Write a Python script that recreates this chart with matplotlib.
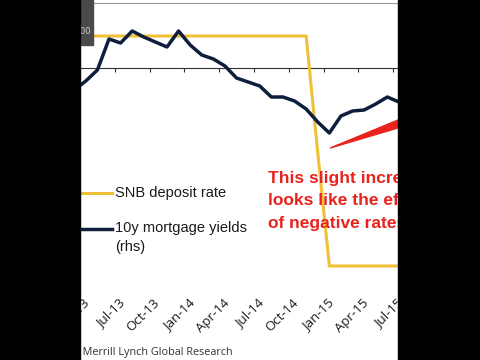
import matplotlib
matplotlib.use('Agg')
import matplotlib.pyplot as plt
from matplotlib.patches import Rectangle
from matplotlib.lines import Line2D
from matplotlib.transforms import ScaledTranslation
import numpy as np

# monthly data, Mar-13 .. Jul-15
months = ['Mar-13', 'Apr-13', 'May-13', 'Jun-13', 'Jul-13', 'Aug-13', 'Sep-13',
          'Oct-13', 'Nov-13', 'Dec-13', 'Jan-14', 'Feb-14', 'Mar-14', 'Apr-14',
          'May-14', 'Jun-14', 'Jul-14', 'Aug-14', 'Sep-14', 'Oct-14', 'Nov-14',
          'Dec-14', 'Jan-15', 'Feb-15', 'Mar-15', 'Apr-15', 'May-15', 'Jun-15',
          'Jul-15']
snb_rate = [0.0, 0.0, 0.0, 0.0, 0.0, 0.0, 0.0, 0.0, 0.0, 0.0, 0.0, 0.0, 0.0,
            0.0, 0.0, 0.0, 0.0, 0.0, 0.0, 0.0, 0.0, -0.38, -0.75, -0.75, -0.75,
            -0.75, -0.75, -0.75, -0.75]
mortgage_yield = [2.46, 2.55, 2.66, 2.97, 2.93, 3.05, 2.99, 2.94, 2.89, 3.05,
                  2.91, 2.81, 2.77, 2.70, 2.58, 2.54, 2.50, 2.39, 2.39, 2.35,
                  2.27, 2.14, 2.03, 2.20, 2.25, 2.26, 2.32, 2.39, 2.34]
tick_labels = ['Apr-13', 'Jul-13', 'Oct-13', 'Jan-14', 'Apr-14', 'Jul-14',
               'Oct-14', 'Jan-15', 'Apr-15', 'Jul-15']

YELLOW = '#f0c138'
NAVY = '#0e1f3d'
RED = '#e8231c'

W, H = 480, 360


def fx(px):
    return px / W


def fy(py):
    return 1 - py / H


fig = plt.figure(figsize=(4.8, 3.6), dpi=100, facecolor='white')

ax = fig.add_axes([fx(80), fy(280), fx(398) - fx(80), 280 / H])
ax.set_facecolor('none')
ax2 = ax.twinx()

# month index 0 = Jul-13, points sit mid-month
pos = np.arange(len(months)) - 4 + 0.5
tick_pos = [months.index(t) - 4 for t in tick_labels]

ax.plot(pos, snb_rate, color=YELLOW, lw=2.2, solid_joinstyle='miter')
ax2.plot(pos, mortgage_yield, color=NAVY, lw=2.5)

ax.set_xlim(-2.83, 24.42)
ax.set_ylim(-0.7957, 0.1174)
ax2.set_ylim(0.56, 3.36)

for a in (ax, ax2):
    for s in a.spines.values():
        s.set_visible(False)
    a.set_yticks([])

ax.set_xticks(tick_pos)
ax.set_xticklabels(tick_labels, rotation=45, ha='right', va='center',
                   rotation_mode='anchor', fontsize=9.5, family='Open Sans',
                   color='#1a1a1a')
ax.tick_params(axis='x', length=0, pad=15)
shift = ScaledTranslation(8 / 100, 0, fig.dpi_scale_trans)
for lab in ax.get_xticklabels():
    lab.set_transform(lab.get_transform() + shift)

# axis line crossing the plot with the tick marks
sec = ax.secondary_xaxis(0.757)
sec.set_alignment('bottom')
sec.set_xticks(tick_pos)
sec.tick_params(axis='x', direction='out', length=3, width=0.8,
                color='#333333', labelbottom=False, labeltop=False)
sec.spines['bottom'].set_color('#333333')
sec.spines['bottom'].set_linewidth(0.8)

# red wedge arrow
ax.annotate('', xy=(18.6, -0.365), xytext=(27.2, -0.25),
            arrowprops=dict(arrowstyle='wedge,tail_width=0.8', color=RED,
                            mutation_scale=10, shrinkA=0, shrinkB=0))

# legend
fig.add_artist(Line2D([fx(40), fx(112)], [fy(193), fy(193)], color=YELLOW,
                      lw=2.2, transform=fig.transFigure))
fig.add_artist(Line2D([fx(40), fx(112)], [fy(229), fy(229)], color=NAVY,
                      lw=2.5, transform=fig.transFigure))
fig.text(fx(115), fy(193), 'SNB deposit rate', va='center', ha='left',
         fontsize=10.5, family='Liberation Sans', color='#1a1a1a')
fig.text(fx(115), fy(221), '10y mortgage yields\n(rhs)', va='top', ha='left',
         fontsize=10.5, family='Liberation Sans', color='#1a1a1a',
         linespacing=1.5)

# annotation text
fig.text(fx(268), fy(171), 'This slight increase\nlooks like the effect\nof negative rates',
         va='top', ha='left', fontsize=12.5, fontweight='bold',
         family='Liberation Sans', color=RED, linespacing=1.62)

# header bits cut by the crop
fig.add_artist(Line2D([fx(93), fx(398)], [fy(2.5), fy(2.5)], color='#9a9a9a',
                      lw=0.8, transform=fig.transFigure))
fig.patches.append(Rectangle((fx(60), fy(45)), fx(33), 45 / H,
                             transform=fig.transFigure, color='#4a4a4a',
                             zorder=5))
fig.text(fx(91), fy(32), '3.00', va='center', ha='right', fontsize=6,
         color='#d0d0d0', zorder=6)

# source
fig.text(fx(233), fy(352), 'Source: BofA Merrill Lynch Global Research',
         va='center', ha='right', fontsize=7.8, family='Open Sans',
         color='#333333')

# black bars of the screenshot
fig.patches.append(Rectangle((0, 0), fx(80), 1, transform=fig.transFigure,
                             color='black', zorder=100))
fig.patches.append(Rectangle((fx(398), 0), fx(82), 1, transform=fig.transFigure,
                             color='black', zorder=100))

fig.savefig('out.png', dpi=100)
